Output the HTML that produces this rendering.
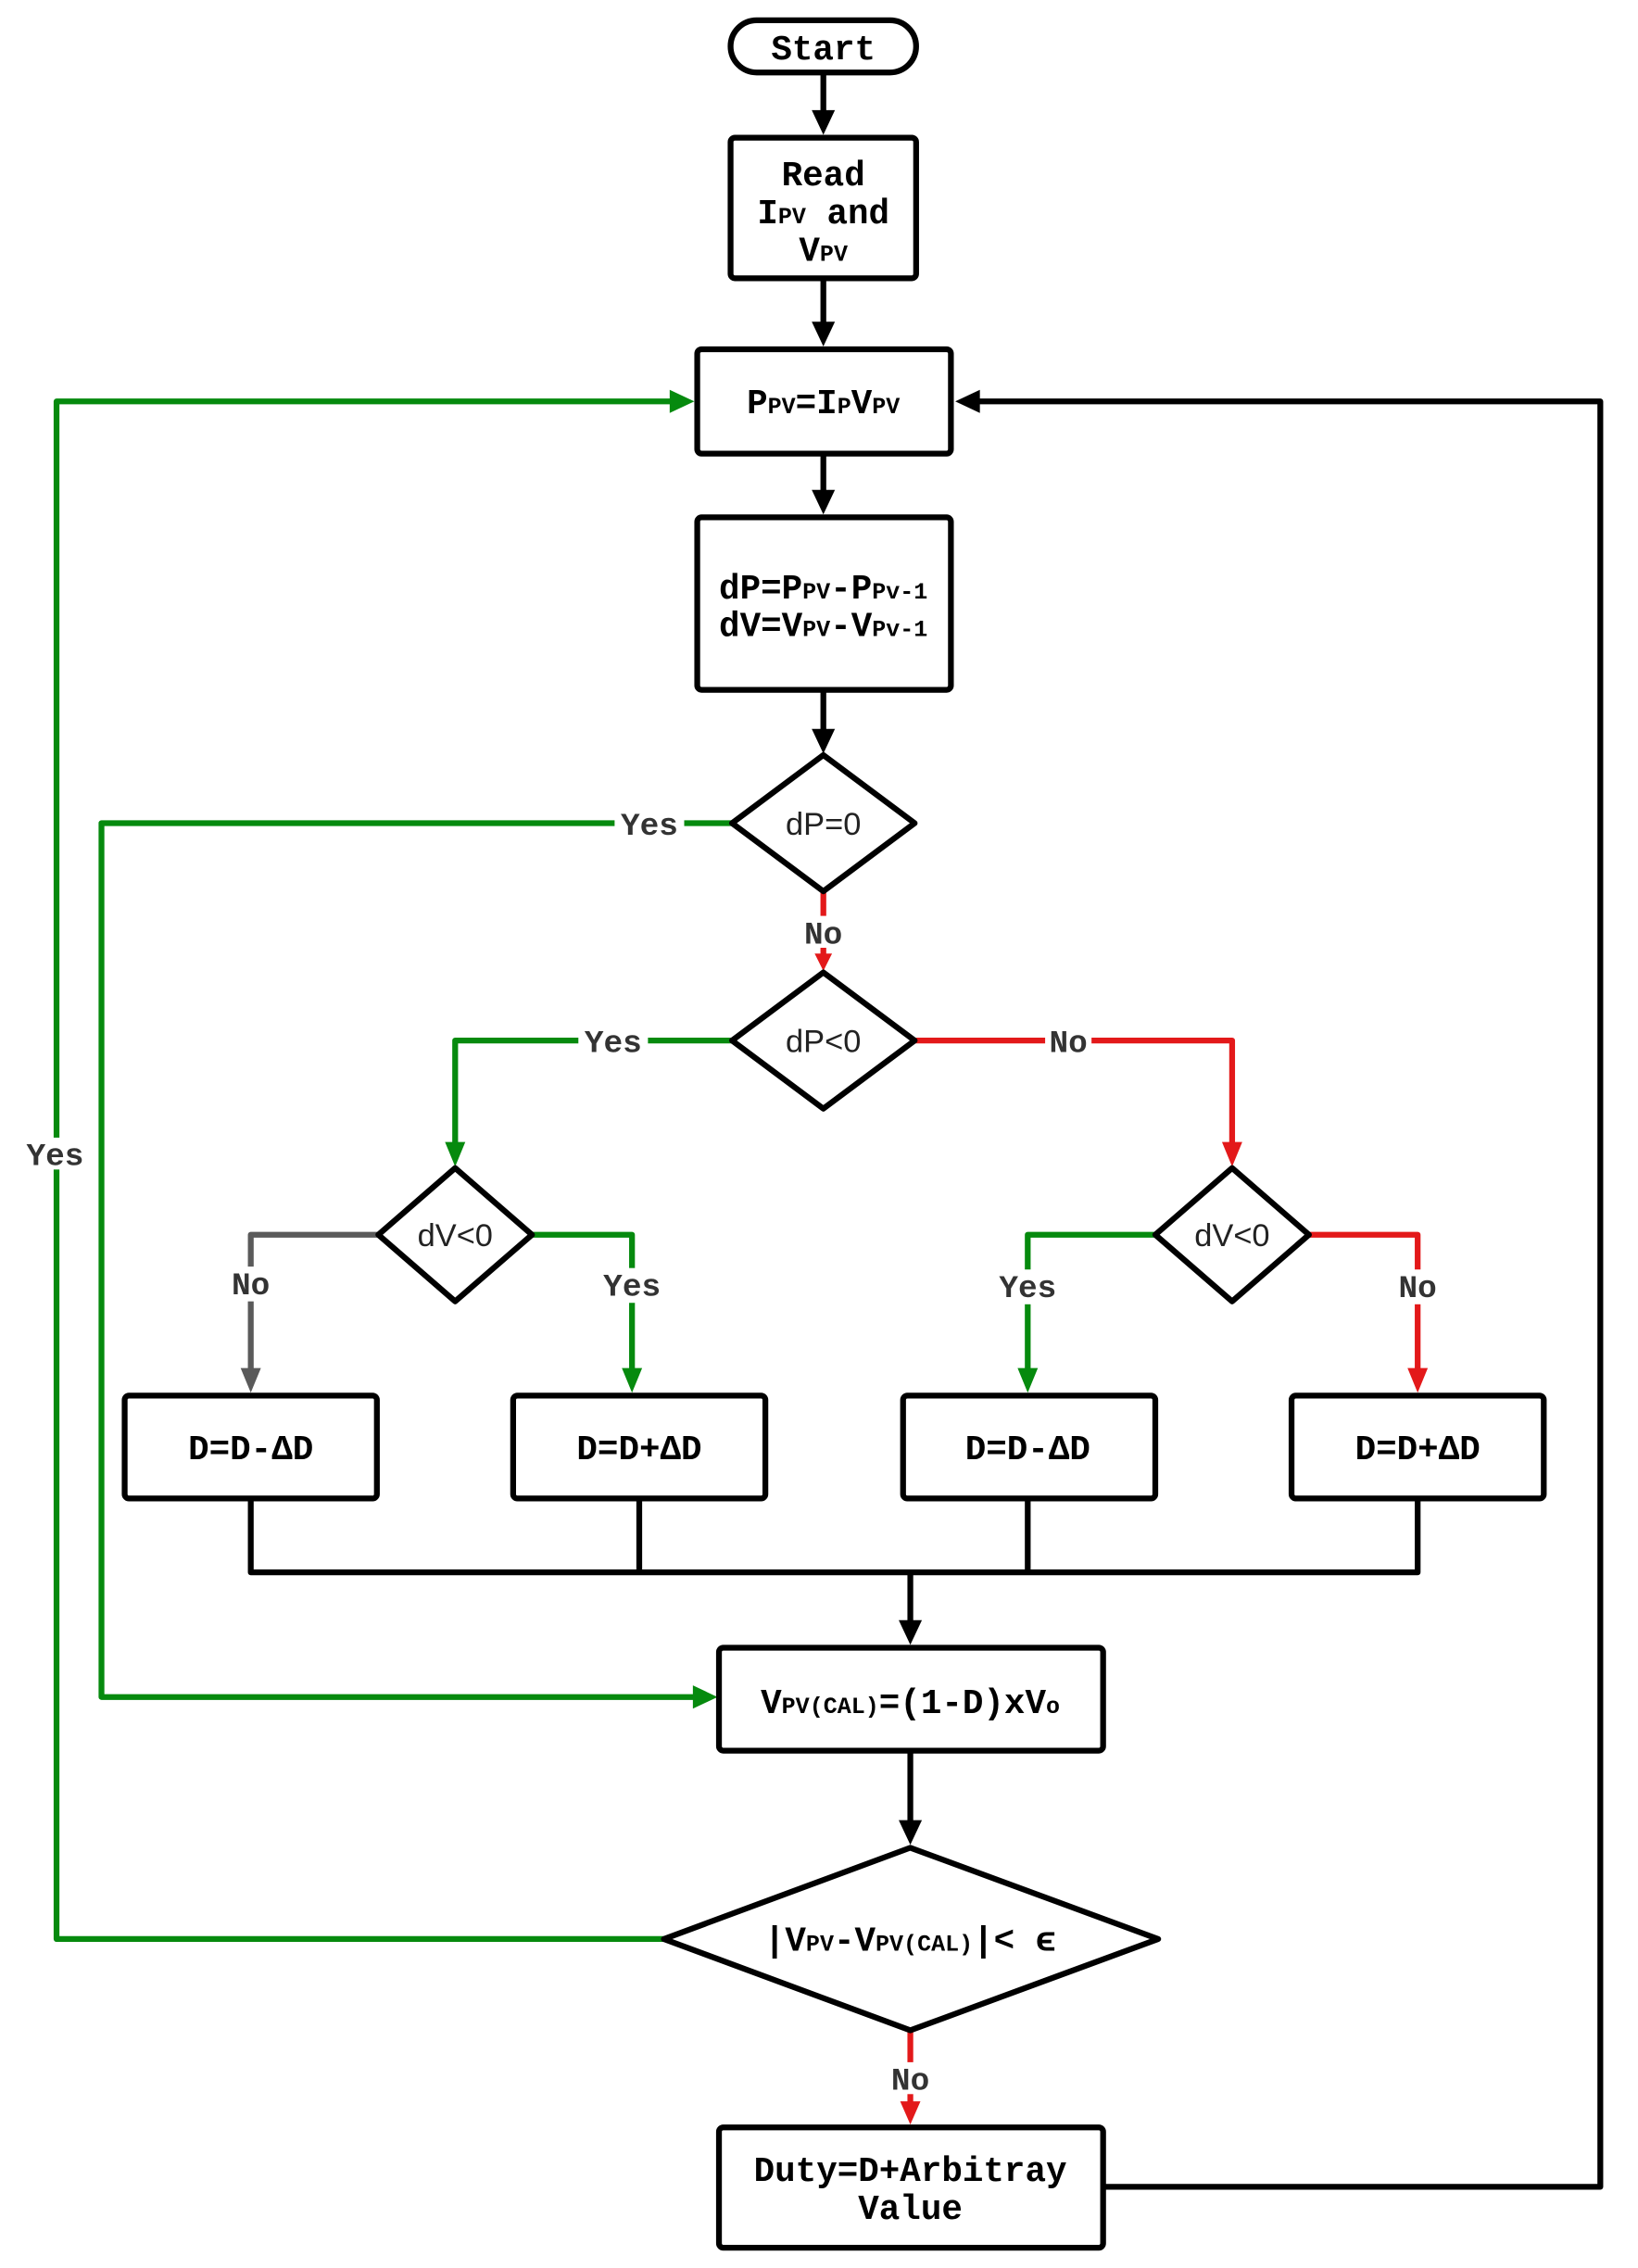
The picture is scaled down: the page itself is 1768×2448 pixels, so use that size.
<!DOCTYPE html>
<html><head><meta charset="utf-8"><style>
html,body{margin:0;padding:0;background:#fff}
svg{display:block}
.b{font-family:"Liberation Mono",monospace;font-weight:bold;font-size:24px;fill:#000;text-anchor:middle}
.s{font-size:16px}
.l{font-family:"Liberation Mono",monospace;font-weight:bold;font-size:22px;fill:#333;text-anchor:middle}
.d{font-family:"Liberation Sans",sans-serif;font-size:22px;fill:#222;text-anchor:middle}
</style></head><body>
<svg width="1768" height="2448" viewBox="0 0 1130 1565" preserveAspectRatio="none" xmlns="http://www.w3.org/2000/svg">
<g fill="none" stroke-linejoin="round">
<g stroke="#000" stroke-width="4">
<line x1="568" y1="50" x2="568" y2="78"/>
<line x1="568" y1="192" x2="568" y2="224"/>
<line x1="568" y1="313" x2="568" y2="340"/>
<line x1="568" y1="476" x2="568" y2="505"/>
<polyline points="173,1034 173,1085 978,1085 978,1034"/>
<line x1="441" y1="1034" x2="441" y2="1085"/>
<line x1="709" y1="1034" x2="709" y2="1085"/>
<line x1="628" y1="1085" x2="628" y2="1120"/>
<line x1="628" y1="1208" x2="628" y2="1258"/>
<polyline points="761,1509 1104,1509 1104,277 674,277"/>
</g>
<g fill="#000">
<path d="M560,76 L576,76 L568,93z"/>
<path d="M560,222 L576,222 L568,239z"/>
<path d="M560,338 L576,338 L568,355z"/>
<path d="M560,503 L576,503 L568,520z"/>
<path d="M620,1118 L636,1118 L628,1135z"/>
<path d="M620,1256 L636,1256 L628,1273z"/>
<path d="M676,269 L676,285 L659,277z"/>
</g>
<g stroke="#068a0e" stroke-width="4">
<polyline points="458,1338 39,1338 39,277 464,277"/>
<polyline points="505,568 70,568 70,1171 480,1171"/>
<polyline points="505,718 314,718 314,790"/>
<polyline points="367,852 436,852 436,946"/>
<polyline points="797,852 709,852 709,946"/>
</g>
<g fill="#068a0e">
<path d="M462,269 L462,285 L479,277z"/>
<path d="M478,1163 L478,1179 L495,1171z"/>
<path d="M307,788 L321,788 L314,805z"/>
<path d="M429,944 L443,944 L436,961z"/>
<path d="M702,944 L716,944 L709,961z"/>
</g>
<g stroke="#e3191a" stroke-width="4">
<line x1="568" y1="615" x2="568" y2="660"/>
<polyline points="631,718 850,718 850,790"/>
<polyline points="903,852 978,852 978,946"/>
<line x1="628" y1="1401" x2="628" y2="1452"/>
</g>
<g fill="#e3191a">
<path d="M562,658 L574,658 L568,670z"/>
<path d="M843,788 L857,788 L850,805z"/>
<path d="M971,944 L985,944 L978,961z"/>
<path d="M621,1450 L635,1450 L628,1466z"/>
</g>
<polyline points="261,852 173,852 173,946" stroke="#5a5a5a" stroke-width="4"/>
<path d="M166,944 L180,944 L173,961z" fill="#5a5a5a"/>
<g stroke="#000" stroke-width="4" fill="#fff">
<rect x="504" y="14" width="128" height="36" rx="18"/>
<rect x="504" y="95" width="128" height="97" rx="3"/>
<rect x="481" y="241" width="175" height="72" rx="3"/>
<rect x="481" y="357" width="175" height="119" rx="3"/>
<path d="M568,521 L631,568 L568,615 L505,568z"/>
<path d="M568,671 L631,718 L568,765 L505,718z"/>
<path d="M314,806 L367,852 L314,898 L261,852z"/>
<path d="M850,806 L903,852 L850,898 L797,852z"/>
<rect x="86" y="963" width="174" height="71" rx="3"/>
<rect x="354" y="963" width="174" height="71" rx="3"/>
<rect x="623" y="963" width="174" height="71" rx="3"/>
<rect x="891" y="963" width="174" height="71" rx="3"/>
<rect x="496" y="1137" width="265" height="71" rx="3"/>
<path d="M628,1275 L799,1338 L628,1401 L458,1338z"/>
<rect x="496" y="1468" width="265" height="83" rx="3"/>
</g>
</g>
<g fill="#fff">
<rect x="424" y="557" width="48" height="22"/>
<rect x="552" y="632" width="32" height="22"/>
<rect x="399" y="707" width="48" height="22"/>
<rect x="721" y="707" width="32" height="22"/>
<rect x="14" y="785" width="48" height="22"/>
<rect x="157" y="874" width="32" height="24"/>
<rect x="412" y="875" width="48" height="24"/>
<rect x="685" y="876" width="48" height="24"/>
<rect x="962" y="876" width="32" height="24"/>
<rect x="612" y="1423" width="32" height="22"/>
</g>
<text class="b" x="568" y="41">Start</text>
<text class="b" x="568" y="128">Read</text>
<text class="b" x="568" y="154">I<tspan class="s">PV</tspan> and</text>
<text class="b" x="568" y="180">V<tspan class="s">PV</tspan></text>
<text class="b" x="568" y="285">P<tspan class="s">PV</tspan>=I<tspan class="s">P</tspan>V<tspan class="s">PV</tspan></text>
<text class="b" x="568" y="413">dP=P<tspan class="s">PV</tspan>-P<tspan class="s">Pv-1</tspan></text>
<text class="b" x="568" y="439">dV=V<tspan class="s">PV</tspan>-V<tspan class="s">Pv-1</tspan></text>
<text class="d" x="568" y="576">dP=0</text>
<text class="d" x="568" y="726">dP&lt;0</text>
<text class="d" x="314" y="860">dV&lt;0</text>
<text class="d" x="850" y="860">dV&lt;0</text>
<text class="b" x="173" y="1007">D=D-ΔD</text>
<text class="b" x="441" y="1007">D=D+ΔD</text>
<text class="b" x="709" y="1007">D=D-ΔD</text>
<text class="b" x="978" y="1007">D=D+ΔD</text>
<text class="b" x="628" y="1182">V<tspan class="s">PV(CAL)</tspan>=(1-D)xV<tspan class="s">o</tspan></text>
<text class="b" x="628" y="1346">|V<tspan class="s">PV</tspan>-V<tspan class="s">PV(CAL)</tspan>|&lt; ϵ</text>
<text class="b" x="628" y="1505">Duty=D+Arbitray</text>
<text class="b" x="628" y="1531">Value</text>
<text class="l" x="448" y="576">Yes</text>
<text class="l" x="568" y="651">No</text>
<text class="l" x="423" y="726">Yes</text>
<text class="l" x="737" y="726">No</text>
<text class="l" x="38" y="804">Yes</text>
<text class="l" x="173" y="893">No</text>
<text class="l" x="436" y="894">Yes</text>
<text class="l" x="709" y="895">Yes</text>
<text class="l" x="978" y="895">No</text>
<text class="l" x="628" y="1442">No</text>
</svg>
</body></html>
